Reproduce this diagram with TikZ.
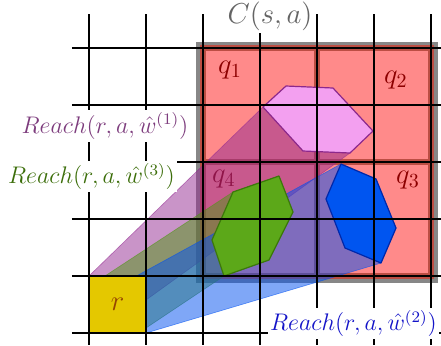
\documentclass[tikz,border=0pt]{standalone}
\definecolor{salmon}{RGB}{255,138,138}
\definecolor{qborder}{RGB}{188,78,68}
\definecolor{framegray}{RGB}{135,135,135}
\definecolor{qtext}{RGB}{140,0,0}
\definecolor{rfill}{RGB}{228,200,0}
\definecolor{rtext}{RGB}{150,70,0}
\definecolor{conepurple}{RGB}{147,41,145}
\definecolor{conegreen}{RGB}{80,150,20}
\definecolor{coneblue}{RGB}{0,80,240}
\definecolor{hexpink}{RGB}{243,160,240}
\definecolor{hexpinkline}{RGB}{140,40,140}
\definecolor{hexgreen}{RGB}{92,168,25}
\definecolor{hexgreenline}{RGB}{60,120,10}
\definecolor{hexblue}{RGB}{0,85,240}
\definecolor{hexblueline}{RGB}{0,40,170}
\definecolor{labpurple}{RGB}{125,60,125}
\definecolor{labgreen}{RGB}{60,110,10}
\definecolor{labblue}{RGB}{20,20,200}
\definecolor{labgray}{RGB}{100,100,100}
\tikzset{
  gridline/.style={line width=0.9pt, black},
  cone/.style={fill=#1, fill opacity=0.5, draw=#1, draw opacity=0.6, line width=0.3pt, line join=round},
  hexa/.style 2 args={fill=#1, draw=#2, line width=0.6pt, line join=round},
  quad/.style={fill=salmon, draw=qborder, line width=1.5pt},
  lab/.style={fill=white, inner sep=1.2pt},
  qlab/.style={text=qtext, font=\fontsize{14}{16}\selectfont, inner sep=0pt},
}
\begin{document}
\begin{tikzpicture}[x=0.5pt, y=-0.5pt]
\useasboundingbox (0,0) rectangle (441,345);
% region C(s,a)
\fill[framegray] (196,42) rectangle (438,283);
\fill[qborder] (200,45) rectangle (434,279);
\filldraw[quad] (204.5,49.5) rectangle (315.5,160.5);
\filldraw[quad] (318.5,49.5) rectangle (429.5,160.5);
\filldraw[quad] (204.5,163.5) rectangle (315.5,274.5);
\filldraw[quad] (318.5,163.5) rectangle (429.5,274.5);
\node[qlab] (q1) at (230,70) {$q_1$};
\node[qlab] (q2) at (396,80) {$q_2$};
\node[qlab] (q3) at (408,180) {$q_3$};
\node[qlab] (q4) at (224,179) {$q_4$};
% reach cones
\path[cone=conepurple] (89,276) -- (263,107) -- (350,153) -- (146,300) -- (95,300) -- cycle;
\path[cone=conegreen] (105,276) -- (233,192) -- (279,176) -- (293,212) -- (269,260) -- (224,276) -- (146,328) -- (110,300) -- cycle;
\path[cone=coneblue] (120,285) -- (341,164) -- (376,179) -- (396,228) -- (381,263) -- (146,333) -- (120,320) -- cycle;
% hexagons
\path[hexa={hexpink}{hexpinkline}] (286,86) -- (333,88) -- (373,131) -- (350,153) -- (303,151) -- (263,107) -- cycle;
\path[hexa={hexgreen}{hexgreenline}] (233,192) -- (279,176) -- (293,212) -- (269,260) -- (224,276) -- (212,240) -- cycle;
\path[hexa={hexblue}{hexblueline}] (341,164) -- (376,179) -- (396,228) -- (381,263) -- (345,248) -- (326,199) -- cycle;
% r
\node[fill=rfill, minimum width=28.5pt, minimum height=28.5pt, inner sep=0pt,
      text=rtext, font=\fontsize{14.5}{16}\selectfont] (r) at (117.5,304.5) {$r$};
% grid
\foreach \i in {0,...,6} \draw[gridline] ({89+57*\i},14) -- ({89+57*\i},345);
\foreach \j in {0,...,5} \draw[gridline] (72,{48+57*\j}) -- (441,{48+57*\j});
% labels
\node[lab, text=labgray, font=\fontsize{14.5}{17}\selectfont] (cs) at (270,16) {$C(s,a)$};
\node[lab, text=labpurple, font=\fontsize{11.6}{14}\selectfont] (w1) at (105,126) {$Reach(r,a,\hat{w}^{(1)})$};
\node[lab, text=labgreen, font=\fontsize{11.6}{14}\selectfont] (w3) at (91.5,176.5) {$Reach(r,a,\hat{w}^{(3)})$};
\node[lab, text=labblue, font=\fontsize{11.6}{14}\selectfont] (w2) at (353.5,323.5) {$Reach(r,a,\hat{w}^{(2)})$};
\end{tikzpicture}
\end{document}
